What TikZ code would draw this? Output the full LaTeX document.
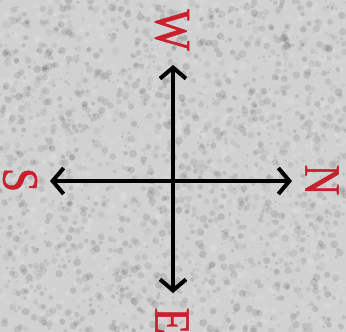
\documentclass[tikz,border=0pt]{standalone}
\usepackage{fontspec}
\newfontfamily\compassfont[FakeBold=1]{Liberation Serif}
\usetikzlibrary{arrows.meta}
\definecolor{compassred}{RGB}{200,32,44}
\begin{document}
\begin{tikzpicture}[x=1pt,y=-1pt,
  axis/.style={line width=4pt, black, {Straight Barb[length=11pt,width=26pt]}-{Straight Barb[length=11pt,width=26pt]}},
  letter/.style={text=compassred, font=\compassfont\fontsize{51}{51}\selectfont, inner sep=0pt, rotate=-90}]
\useasboundingbox (0,0) rectangle (346,332);
\begin{scope}
\clip (0,0) rectangle (346,332);
\fill[black!18] (0,0) rectangle (346,332);
\pgfmathsetseed{11}
\foreach \i in {1,...,3500}{
  \pgfmathsetmacro\px{rnd*346}
  \pgfmathsetmacro\py{rnd*332}
  \pgfmathsetmacro\pr{1+rnd*3}
  \pgfmathsetmacro\po{0.03+rnd*0.09}
  \pgfmathtruncatemacro\pk{rnd>0.45?1:0}
  \ifnum\pk=1 \def\pc{black}\else\def\pc{white}\fi
  \fill[\pc, opacity=\po] (\px,\py) circle[radius=\pr];
}
\end{scope}
\coordinate (S) at (50,181);
\coordinate (N) at (292,181);
\coordinate (W) at (173,65);
\coordinate (E) at (173,293);
\draw[axis] (S) -- (N);
\draw[axis] (W) -- (E);
\node[letter] (labW) at (172,30) {\scalebox{0.86}[1]{W}};
\node[letter] (labE) at (172,321) {\scalebox{0.86}[1]{E}};
\node[letter] (labS) at (20,180) {\scalebox{0.86}[1]{S}};
\node[letter] (labN) at (322,180) {\scalebox{0.84}[1]{N}};
\end{tikzpicture}
\end{document}
